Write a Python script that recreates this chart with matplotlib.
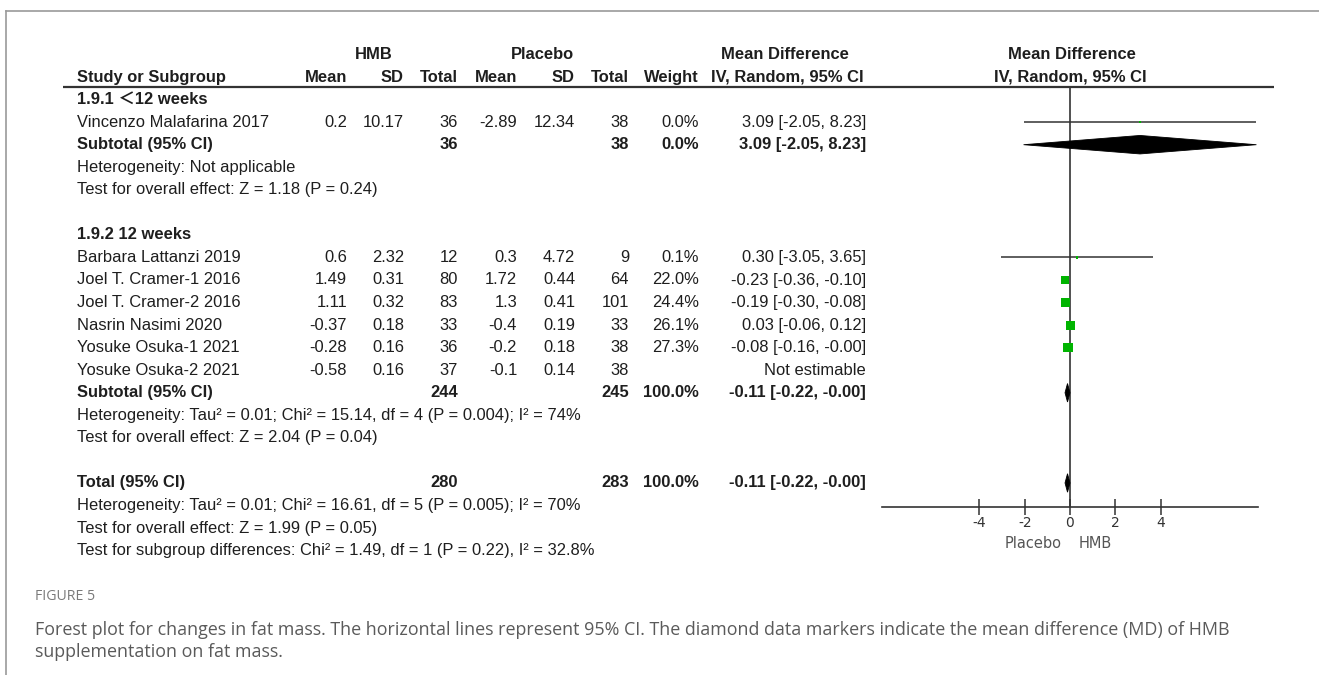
import matplotlib
matplotlib.use("Agg")
import matplotlib.pyplot as plt
from matplotlib.lines import Line2D
import numpy as np

plt.rcParams['font.family'] = ['Liberation Sans', 'Noto Sans CJK SC', 'DejaVu Sans']

# ---- data ----
studies = ["Vincenzo Malafarina 2017", "Barbara Lattanzi 2019", "Joel T. Cramer-1 2016",
           "Joel T. Cramer-2 2016", "Nasrin Nasimi 2020", "Yosuke Osuka-1 2021",
           "Yosuke Osuka-2 2021"]
study_rows = [3, 9, 10, 11, 12, 13, 14]
hmb_mean = [0.2, 0.6, 1.49, 1.11, -0.37, -0.28, -0.58]
hmb_sd = [10.17, 2.32, 0.31, 0.32, 0.18, 0.16, 0.16]
hmb_n = [36, 12, 80, 83, 33, 36, 37]
pla_mean = [-2.89, 0.3, 1.72, 1.3, -0.4, -0.2, -0.1]
pla_sd = [12.34, 4.72, 0.44, 0.41, 0.19, 0.18, 0.14]
pla_n = [38, 9, 64, 101, 33, 38, 38]
weight = [0.0, 0.1, 22.0, 24.4, 26.1, 27.3, None]
md = [3.09, 0.30, -0.23, -0.19, 0.03, -0.08, None]
md_lo = [-2.05, -3.05, -0.36, -0.30, -0.06, -0.16, None]
md_hi = [8.23, 3.65, -0.10, -0.08, 0.12, -0.0, None]

# subtotals + overall
pooled_labels = ["Subtotal (95% CI)", "Subtotal (95% CI)", "Total (95% CI)"]
pooled_rows = [4, 15, 19]
pooled_hmb_n = [36, 244, 280]
pooled_pla_n = [38, 245, 283]
pooled_weight = ["0.0%", "100.0%", "100.0%"]
pooled_md = [3.09, -0.11, -0.11]
pooled_lo = [-2.05, -0.22, -0.22]
pooled_hi = [8.23, -0.0, -0.0]

group_titles = ["1.9.1 \uff1c12 weeks", "1.9.2 12 weeks"]
group_rows = [2, 8]
notes = ["Heterogeneity: Not applicable",
         "Test for overall effect: Z = 1.18 (P = 0.24)",
         "Heterogeneity: Tau\u00b2 = 0.01; Chi\u00b2 = 15.14, df = 4 (P = 0.004); I\u00b2 = 74%",
         "Test for overall effect: Z = 2.04 (P = 0.04)",
         "Heterogeneity: Tau\u00b2 = 0.01; Chi\u00b2 = 16.61, df = 5 (P = 0.005); I\u00b2 = 70%",
         "Test for overall effect: Z = 1.99 (P = 0.05)",
         "Test for subgroup differences: Chi\u00b2 = 1.49, df = 1 (P = 0.22), I\u00b2 = 32.8%"]
note_rows = [5, 6, 16, 17, 20, 21, 22]

xticks = [-4, -2, 0, 2, 4]

# ---- layout ----
W, H = 1319, 675
ROW0, ROWH = 54.5, 22.55         # pixel y of row 0, row spacing
ylim = ((H - ROW0) / ROWH, -ROW0 / ROWH)
col = {'hm': 347, 'hs': 404, 'hn': 458, 'pm': 517, 'ps': 575, 'pn': 629, 'w': 699, 'ci': 866}
LABEL_X = 77
FS = 11.9
TXT = '#1e1e1e'
LINE_Y = 1.43

fig = plt.figure(figsize=(W / 100, H / 100), dpi=100)
ax = fig.add_axes([0, 0, 1, 1])
ax.set_xlim(0, W)
ax.set_ylim(*ylim)
ax.axis('off')

# frame (top and left border)
fig.add_artist(Line2D([6 / W, 1], [1 - 11 / H, 1 - 11 / H], transform=fig.transFigure, color='#9a9a9a', lw=1.2))
fig.add_artist(Line2D([6 / W, 6 / W], [0, 1 - 11 / H], transform=fig.transFigure, color='#9a9a9a', lw=1.2))


def t(x, row, s, ha='left', bold=False, **kw):
    ax.text(x, row, s, ha=ha, va='center', fontsize=FS, color=TXT,
            fontweight='bold' if bold else 'normal', **kw)


# header rows
t(374, 0, "HMB", ha='center', bold=True)
t(542, 0, "Placebo", ha='center', bold=True)
t(785, 0, "Mean Difference", ha='center', bold=True)
t(1072, 0, "Mean Difference", ha='center', bold=True)
t(LABEL_X, 1, "Study or Subgroup", bold=True)
for key, name in zip(['hm', 'hs', 'hn', 'pm', 'ps', 'pn', 'w'],
                     ["Mean", "SD", "Total", "Mean", "SD", "Total", "Weight"]):
    t(col[key], 1, name, ha='right', bold=True)
t(787, 1, "IV, Random, 95% CI", ha='center', bold=True)
t(1070, 1, "IV, Random, 95% CI", ha='center', bold=True)
ax.hlines(LINE_Y, 63, 1274, color='#333333', lw=1.6)

for title, r in zip(group_titles, group_rows):
    t(LABEL_X, r, title, bold=True)

for i, r in enumerate(study_rows):
    t(LABEL_X, r, studies[i])
    t(col['hm'], r, str(hmb_mean[i]), ha='right')
    t(col['hs'], r, str(hmb_sd[i]), ha='right')
    t(col['hn'], r, str(hmb_n[i]), ha='right')
    t(col['pm'], r, str(pla_mean[i]), ha='right')
    t(col['ps'], r, str(pla_sd[i]), ha='right')
    t(col['pn'], r, str(pla_n[i]), ha='right')
    if md[i] is None:
        t(col['ci'], r, "Not estimable", ha='right')
    else:
        t(col['w'], r, f"{weight[i]:.1f}%", ha='right')
        t(col['ci'], r, f"{md[i]:.2f} [{md_lo[i]:.2f}, {md_hi[i]:.2f}]", ha='right')

for i, r in enumerate(pooled_rows):
    t(LABEL_X, r, pooled_labels[i], bold=True)
    t(col['hn'], r, str(pooled_hmb_n[i]), ha='right', bold=True)
    t(col['pn'], r, str(pooled_pla_n[i]), ha='right', bold=True)
    t(col['w'], r, pooled_weight[i], ha='right', bold=True)
    t(col['ci'], r, f"{pooled_md[i]:.2f} [{pooled_lo[i]:.2f}, {pooled_hi[i]:.2f}]", ha='right', bold=True)

for s, r in zip(notes, note_rows):
    t(LABEL_X, r, s)

# ---- forest panel ----
fx = fig.add_axes([882 / W, 0, 376 / W, 1])
fx.set_xlim(-8.3, 8.3)
fx.set_ylim(*ylim)
fx.patch.set_alpha(0)
for side in ['top', 'left', 'right']:
    fx.spines[side].set_visible(False)
fx.spines['bottom'].set_position(('data', 20.05))
fx.spines['bottom'].set_color('#333333')
fx.spines['bottom'].set_linewidth(1.2)
fx.set_yticks([])
fx.set_xticks(xticks)
fx.set_xticklabels([str(v) for v in xticks], family='DejaVu Sans')
fx.tick_params(axis='x', direction='inout', length=11, width=1.1, color='#333333',
               labelsize=10, labelcolor='#333333', pad=1)

fx.vlines(0, LINE_Y, 20.05, color='#333333', lw=1.2)

est = [i for i in range(len(md)) if md[i] is not None]
rows_e = [study_rows[i] for i in est]
fx.hlines(rows_e, [md_lo[i] for i in est], [md_hi[i] for i in est], color='#333333', lw=1.1)
side_px = [max(2.2, 1.8 * np.sqrt(weight[i])) for i in est]
fx.scatter([md[i] for i in est], rows_e, marker='s',
           s=[(p * 0.72) ** 2 for p in side_px], color='#00b400', linewidths=0, zorder=3)

half_h = 0.41
for m, lo, hi, r in zip(pooled_md, pooled_lo, pooled_hi, pooled_rows):
    fx.fill([lo, m, hi, m], [r, r - half_h, r, r + half_h], color='black', lw=0.6, zorder=3)

fx.text(-0.37, 21.7, "Placebo", ha='right', va='center', fontsize=10.5, color='#555555', family='DejaVu Sans')
fx.text(0.37, 21.7, "HMB", ha='left', va='center', fontsize=10.5, color='#555555', family='DejaVu Sans')

# ---- caption ----
cap_font = ['Open Sans', 'DejaVu Sans']
fig.text(35 / W, 1 - 597 / H, "FIGURE 5", fontsize=10.2, color='#7a7a7a', va='center', family=cap_font)
fig.text(35 / W, 1 - 630 / H,
         "Forest plot for changes in fat mass. The horizontal lines represent 95% CI. "
         "The diamond data markers indicate the mean difference (MD) of HMB",
         fontsize=12.9, color='#5a5a5a', va='center', family=cap_font)
fig.text(35 / W, 1 - 652 / H, "supplementation on fat mass.",
         fontsize=12.9, color='#5a5a5a', va='center', family=cap_font)

fig.savefig("out.png", dpi=100)
